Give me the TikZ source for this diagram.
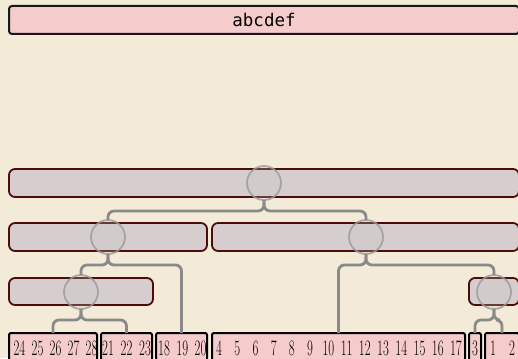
\documentclass[tikz,border=0pt]{standalone}
\usepackage{fontspec}
\newfontfamily\monof{DejaVu Sans Mono}
\definecolor{bgc}{HTML}{F3EBD8}
\definecolor{pinkc}{HTML}{F5CBCB}
\definecolor{barc}{HTML}{D6CDCF}
\definecolor{maroonc}{HTML}{4E0B0B}
\definecolor{connc}{HTML}{8A8A8A}
\definecolor{ringc}{HTML}{9A9A9A}
\newcommand\digs[1]{\scalebox{0.58}[1]{#1}}
\tikzset{
  bar/.style={draw=maroonc, fill=barc, line width=1.8pt, rounded corners=6pt, inner sep=0pt, outer sep=0pt, minimum height=28pt},
  topbar/.style={draw=black!90, fill=pinkc, line width=2pt, rounded corners=3pt, inner sep=0pt, outer sep=0pt, minimum height=28pt},
  leaf/.style={draw=black, fill=pinkc, line width=2pt, rounded corners=2pt, inner sep=0pt, outer sep=0pt, minimum height=38pt},
  ring/.style={circle, draw=ringc, draw opacity=0.8, fill=gray!45, fill opacity=0.25, line width=1.8pt, minimum size=34pt, inner sep=0pt, outer sep=0pt},
  conn/.style={draw=connc, line width=2.8pt, rounded corners=6pt},
  num/.style={font=\fontsize{22}{22}\selectfont, inner sep=0pt, anchor=base}
}
\begin{document}
\begin{tikzpicture}[x=1pt,y=-1pt]
\useasboundingbox (0,0) rectangle (518,358);
\clip (0,0) rectangle (518,358);
\fill[bgc] (0,0) rectangle (518,358);

% top label bar
\node[topbar, minimum width=510pt] (top) at (264,20) {};
\node[font=\monof\fontsize{17.5}{17.5}\selectfont, inner sep=0pt] (toplabel) at (264,20) {abcdef};

% bars
\node[bar, minimum width=510pt] (r1) at (264,183) {};
\node[bar, minimum width=198pt] (r2a) at (108,237) {};
\node[bar, minimum width=307pt] (r2b) at (365.5,237) {};
\node[bar, minimum width=144pt, minimum height=27pt] (r3a) at (81,291.5) {};
\node[bar, minimum width=50pt, minimum height=27pt] (r3b) at (494,291.5) {};

% leaves
\node[leaf, minimum width=88pt] (bA) at (53,352) {};
\node[leaf, minimum width=51pt] (bB) at (126.5,352) {};
\node[leaf, minimum width=51pt] (bC) at (181.5,352) {};
\node[leaf, minimum width=253pt] (bD) at (338.5,352) {};
\node[leaf, minimum width=12pt] (bE) at (475,352) {};
\node[leaf, minimum width=34pt] (bF) at (502,352) {};

% rings
\node[ring] (c1) at (264,183) {};
\node[ring] (c2a) at (108,237) {};
\node[ring] (c2b) at (366,237) {};
\node[ring] (c3a) at (81,292) {};
\node[ring] (c3b) at (494,292) {};

% connectors
\draw[conn] (c1.south) -- ++(0,11) -| (c2a.north);
\draw[conn] (c1.south) -- ++(0,11) -| (c2b.north);
\draw[conn] (c2a.south) -- ++(0,11) -| (c3a.north);
\draw[conn] (c2a.south) -- ++(0,11) -| (bC.north);
\draw[conn] (c2b.south) -- ++(0,11) -| (bD.north);
\draw[conn] (c2b.south) -- ++(0,11) -| (c3b.north);
\draw[conn] (c3a.south) -- ++(0,11) -| (bA.north);
\draw[conn] (c3a.south) -- ++(0,11) -| (bB.north);
\draw[conn] (c3b.south) -- ++(0,11) -| (bE.north);
\draw[conn] (c3b.south) -- ++(0,11) -| (bF.north);

% numbers
\foreach \n [count=\i from 0] in {24,25,26,27,28}
  \node[num] (n\n) at ({19.5+18*\i},355.5) {\digs{\n}};
\foreach \n [count=\i from 0] in {21,22,23}
  \node[num] (n\n) at ({108+18.5*\i},355.5) {\digs{\n}};
\foreach \n [count=\i from 0] in {18,19,20}
  \node[num] (n\n) at ({164+18.25*\i},355.5) {\digs{\n}};
\foreach \n [count=\i from 0] in {4,5,6,7,8,9,10,11,12,13,14,15,16,17}
  \node[num] (n\n) at ({219+18.23*\i},355.5) {\digs{\n}};
\node[num] (n3) at (475,355.5) {\digs{3}};
\node[num] (n1) at (493,355.5) {\digs{1}};
\node[num] (n2) at (512,355.5) {\digs{2}};
\end{tikzpicture}
\end{document}
